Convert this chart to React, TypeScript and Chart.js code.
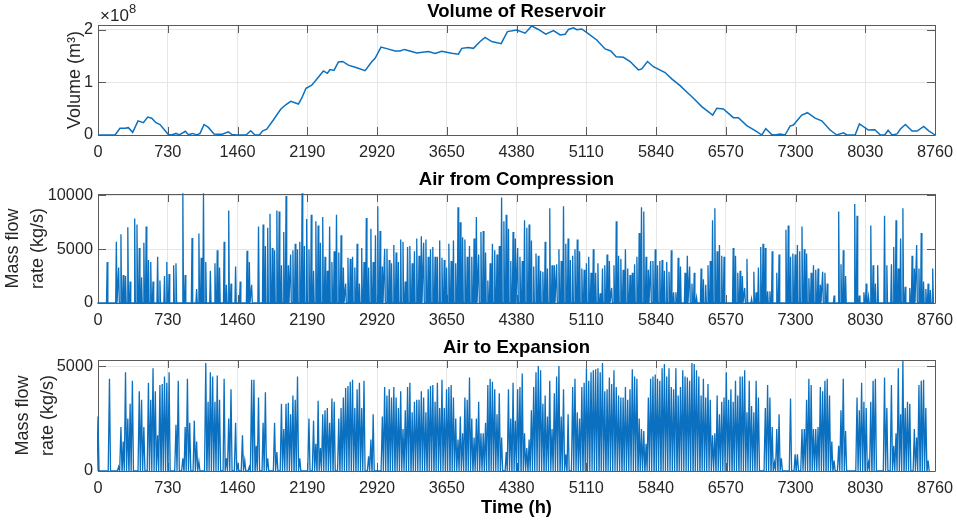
import React, { useEffect, useRef } from 'react';
import Chart from 'chart.js/auto';

const xTicks = [0, 730, 1460, 2190, 2920, 3650, 4380, 5110, 5840, 6570, 7300, 8030, 8760];

// reservoir volume, in units of 1e8 m3
const volumeHours = [
  0, 178, 230, 283, 318, 363, 419, 475, 520, 562, 607, 649, 736, 771, 816, 851, 914, 946, 991, 1033,
  1068, 1110, 1155, 1214, 1294, 1364, 1399, 1451, 1549, 1598, 1643, 1689, 1724, 1766, 1835, 1912, 1968, 2017, 2097, 2132,
  2177, 2237, 2306, 2359, 2401, 2428, 2470, 2516, 2561, 2620, 2708, 2795, 2865, 2900, 2962, 3022, 3109, 3161, 3207, 3283,
  3336, 3458, 3528, 3597, 3702, 3772, 3807, 3876, 3929, 3999, 4051, 4121, 4219, 4285, 4383, 4470, 4539, 4609, 4686, 4767,
  4837, 4889, 4924, 4976, 5011, 5063, 5116, 5220, 5307, 5367, 5423, 5499, 5569, 5656, 5691, 5751, 5813, 5935, 6005, 6092,
  6179, 6232, 6319, 6434, 6476, 6545, 6650, 6702, 6790, 6895, 6947, 6989, 7052, 7087, 7139, 7191, 7243, 7278, 7365, 7425,
  7505, 7575, 7662, 7732, 7802, 7837, 7924, 7969, 8063, 8130, 8189, 8234, 8269, 8311, 8363, 8398, 8450, 8520, 8573, 8642,
  8695, 8760,
];
const volumes = [
  0, 0, 0.127, 0.127, 0.14, 0.05, 0.27, 0.235, 0.34, 0.32, 0.235, 0.2, 0.01, 0, 0.03, 0, 0.07, 0.005, 0.03, 0,
  0.03, 0.2, 0.145, 0.02, 0.012, 0.06, 0.012, 0, 0, 0.08, 0, 0, 0.08, 0.11, 0.285, 0.49, 0.58, 0.64, 0.59, 0.7,
  0.89, 0.95, 1.1, 1.22, 1.175, 1.245, 1.23, 1.39, 1.4, 1.33, 1.28, 1.225, 1.395, 1.46, 1.675, 1.645, 1.6, 1.6, 1.63, 1.59,
  1.56, 1.59, 1.555, 1.595, 1.555, 1.54, 1.65, 1.665, 1.65, 1.78, 1.86, 1.78, 1.74, 1.97, 2.0, 1.94, 2.075, 2.01, 1.92, 1.99,
  1.905, 1.92, 2.01, 2.04, 2.005, 2.02, 1.95, 1.81, 1.64, 1.6, 1.49, 1.48, 1.4, 1.24, 1.26, 1.4, 1.3, 1.19, 1.07, 0.94,
  0.79, 0.7, 0.54, 0.38, 0.51, 0.495, 0.33, 0.33, 0.18, 0.065, 0, 0.12, 0.01, 0, 0.02, 0, 0.17, 0.19, 0.38, 0.425,
  0.32, 0.27, 0.095, 0, 0.04, 0, 0, 0.21, 0.095, 0.1, 0, 0, 0.09, 0, 0.02, 0.115, 0.2, 0.075, 0.075, 0.165,
  0.08, 0,
];

// daily peak of the compressor air flow, kg/s
const compressionPeaks = [
  0, 0, 0, 0, 3800, 0, 0, 0, 5700, 3300,
  6400, 2600, 2500, 7050, 2000, 0, 7850, 7300, 5100, 2400,
  5600, 7100, 4000, 3800, 2000, 0, 4300, 2100, 0, 2500,
  3800, 2700, 0, 3500, 3700, 0, 0, 10200, 2600, 0,
  0, 6050, 0, 1300, 6450, 4200, 10200, 3800, 0, 3000,
  0, 3700, 4900, 3300, 0, 5700, 1700, 8600, 1800, 0,
  3400, 0, 2000, 0, 0, 4850, 3800, 1700, 0, 0,
  7100, 0, 7300, 5300, 7000, 8300, 5100, 4900, 8600, 8500,
  3500, 6600, 9950, 3500, 4500, 4900, 5500, 5000, 5700, 10200,
  5300, 7800, 5000, 8200, 3000, 7600, 7200, 5600, 8000, 4300,
  3000, 7100, 3800, 4800, 8200, 4700, 6300, 3300, 1800, 4200,
  4100, 4300, 3300, 5500, 1800, 5100, 3800, 7900, 3300, 6900,
  3800, 6300, 9000, 6700, 3400, 5050, 5050, 4000, 3700, 5400,
  4700, 3800, 5900, 5700, 2000, 5200, 5300, 3700, 4800, 6000,
  4400, 6200, 5600, 5900, 4300, 5000, 5200, 4300, 4300, 5800,
  4200, 4000, 3300, 5500, 3900, 5800, 3700, 8900, 7500, 6100,
  5900, 4300, 5300, 4300, 6000, 8000, 4500, 6600, 6700, 4700,
  2100, 3700, 5500, 4900, 4500, 5300, 9800, 7600, 8200, 6900,
  3900, 6600, 6000, 5100, 4300, 3900, 7700, 7000, 7300, 5800,
  3400, 4600, 4400, 3000, 2900, 5700, 3200, 8800, 3500, 3500,
  3600, 5000, 3900, 9000, 5500, 6000, 4000, 4400, 5000, 5900,
  4800, 3200, 3100, 3700, 4300, 2800, 5000, 2800, 3700, 900,
  3200, 3500, 4500, 3900, 1400, 3500, 7600, 4400, 4100, 3100,
  5000, 3200, 2600, 2800, 3600, 4300, 6500, 8900, 8500, 4300,
  3100, 3900, 3900, 5000, 3500, 3900, 4000, 3000, 3800, 2900,
  4900, 1000, 1000, 4200, 3400, 0, 2800, 4400, 3400, 1800,
  2800, 500, 0, 3200, 2200, 1700, 3500, 3900, 7700, 8800,
  4800, 5400, 4400, 4300, 0, 0, 0, 5100, 4400, 2800,
  3000, 2500, 1400, 4100, 0, 400, 2900, 1000, 3300, 5200,
  5500, 5100, 1100, 1100, 4800, 0, 2800, 4500, 0, 0,
  6800, 7200, 4300, 4600, 4500, 5400, 4800, 7100, 5000, 4600,
  2300, 2800, 3500, 3100, 3200, 1700, 2900, 2800, 1800, 0,
  0, 700, 0, 8500, 3600, 4900, 2500, 0, 0, 0,
  9200, 8100, 700, 0, 1000, 1800, 600, 7200, 3500, 1800,
  3500, 0, 0, 8100, 3500, 0, 3600, 5200, 7700, 3200,
  6000, 8800, 1500, 0, 1400, 4400, 3200, 5400, 3200, 6500,
  2000, 1300, 1800, 1200, 3200,
];

// daily peak of the expansion air flow, kg/s
const expansionPeaks = [
  2600, 0, 0, 0, 0, 4400, 0, 0, 0, 200,
  2100, 1400, 4700, 2500, 3200, 4300, 0, 0, 3800, 3400,
  2100, 0, 4200, 3400, 4900, 3800, 1700, 4100, 4150, 4500,
  4200, 4700, 0, 0, 2200, 4300, 0, 600, 2100, 4400,
  2300, 0, 2400, 1400, 450, 0, 0, 5150, 3300, 4700,
  4500, 3300, 4550, 3400, 0, 4400, 600, 2500, 3900, 0,
  2300, 300, 0, 1700, 500, 0, 200, 4350, 4350, 1200,
  3500, 0, 2300, 3750, 600, 0, 0, 2300, 900, 0,
  3200, 2000, 3200, 3250, 2700, 3600, 3400, 4500, 600, 0,
  0, 0, 2500, 0, 2400, 1300, 3350, 1100, 2700, 2900,
  3000, 2300, 3450, 3300, 0, 2500, 3000, 3500, 3950, 4050,
  4250, 4350, 3000, 3900, 4200, 3000, 4300, 0, 700, 1500,
  2700, 0, 0, 0, 2600, 4000, 3600, 3900, 3500, 4000,
  3500, 3000, 3800, 2000, 2900, 4000, 4200, 2800, 3300, 3400,
  3400, 3800, 3500, 2800, 3900, 4050, 4100, 3300, 4200, 3000,
  4350, 3000, 3900, 4000, 4100, 3500, 2500, 1500, 2600, 1800,
  3500, 3400, 4450, 2500, 1600, 2500, 3300, 1800, 1800, 2300,
  4100, 4400, 4250, 3900, 2700, 3700, 1600, 0, 900, 3900,
  2500, 4200, 2400, 3900, 4000, 4650, 1800, 1100, 1500, 2900,
  4000, 4700, 5000, 4800, 3200, 3600, 2600, 4300, 2000, 3700,
  4500, 5000, 2600, 3900, 800, 2700, 0, 4000, 4400, 2800,
  2500, 4000, 4200, 4900, 4300, 4700, 4800, 4850, 4900, 4700,
  5150, 3800, 3900, 4450, 4150, 4800, 4000, 3600, 3500, 3500,
  4000, 3400, 3900, 4850, 4500, 4400, 2500, 2000, 1900, 1300,
  3500, 4400, 4500, 4600, 4400, 4300, 4900, 5100, 4500, 4900,
  4000, 3900, 4900, 3600, 4000, 4800, 4500, 4450, 4300, 5150,
  5100, 4800, 4500, 3600, 4400, 3500, 4150, 3400, 1700, 1800,
  3600, 2700, 3300, 3500, 4700, 3400, 3900, 3300, 4300, 3600,
  4500, 4500, 4800, 2800, 4300, 3100, 2800, 4300, 3500, 0,
  0, 3000, 4100, 3500, 2100, 400, 2000, 2700, 600, 0,
  0, 0, 3450, 0, 800, 800, 0, 2000, 2000, 3400,
  4400, 4100, 2000, 2000, 2100, 4000, 3800, 4300, 4400, 3600,
  1400, 500, 0, 1200, 2900, 4400, 1900, 0, 0, 0,
  0, 3500, 2900, 4200, 3300, 3000, 400, 3300, 4300, 4400,
  0, 0, 0, 4450, 3000, 0, 4100, 1200, 1800, 4900,
  2700, 5250, 3000, 3300, 3200, 0, 2000, 1600, 4100, 4300,
  4350, 3000, 500,
];

const LINE_BLUE = '#0a70bf';
const AXIS_GREY = '#5a5a5a';
const TEXT_GREY = '#262626';
const FONT = "'Liberation Sans', Arial, sans-serif";

// halfWidth: hours either side of a daily peak
const spikes = (peaks: number[], halfWidth: number) =>
  peaks.flatMap((peak, day) => [
    { x: day * 24 - halfWidth, y: 0 },
    { x: day * 24, y: peak },
    { x: day * 24 + halfWidth, y: 0 },
  ]);

type PanelProps = {
  title: string;
  titleTop: number;
  yLabel: string | string[];
  yMax: number;
  yTicks: number[];
  points: { x: number; y: number }[];
  lineWidth: number;
  canvasTop: number;
  canvasHeight: number;
  plotTop: number;
  xBoxHeight: number;
  yBoxWidth: number;
  xLabel?: string;
  exponent?: boolean;
};

const PLOT_LEFT = 98;

const Panel = (props: PanelProps) => {
  const chartRef = useRef<HTMLCanvasElement>(null);

  useEffect(() => {
    if (!chartRef.current) return;
    const { title, titleTop, yLabel, yMax, yTicks, points, lineWidth, plotTop, xBoxHeight, yBoxWidth, xLabel, exponent } = props;

    // MATLAB style box with inward ticks on all four sides, under the data
    const frame = {
      id: 'frame',
      beforeDatasetsDraw(chart: any) {
        const { ctx, chartArea: a, scales } = chart;
        ctx.save();
        ctx.strokeStyle = AXIS_GREY;
        ctx.lineWidth = 1;
        ctx.beginPath();
        xTicks.forEach((t) => {
          const px = Math.round(scales.x.getPixelForValue(t)) + 0.5;
          ctx.moveTo(px, a.top);
          ctx.lineTo(px, a.top + 8);
          ctx.moveTo(px, a.bottom);
          ctx.lineTo(px, a.bottom - 8);
        });
        yTicks.forEach((t) => {
          const py = Math.round(scales.y.getPixelForValue(t)) + 0.5;
          ctx.moveTo(a.left, py);
          ctx.lineTo(a.left + 8, py);
          ctx.moveTo(a.right, py);
          ctx.lineTo(a.right - 8, py);
        });
        ctx.rect(a.left + 0.5, a.top + 0.5, a.right - a.left, a.bottom - a.top);
        ctx.stroke();
        ctx.restore();
      },
      afterDraw(chart: any) {
        if (!exponent) return;
        const { ctx, chartArea: a } = chart;
        ctx.save();
        ctx.fillStyle = TEXT_GREY;
        ctx.textBaseline = 'alphabetic';
        ctx.font = `17px ${FONT}`;
        ctx.fillText('×10', a.left + 2, 21);
        ctx.font = `13px ${FONT}`;
        ctx.fillText('8', a.left + 31, 13);
        ctx.restore();
      },
    };

    const chart = new Chart(chartRef.current, {
      type: 'line',
      data: {
        datasets: [{
          data: points,
          borderColor: LINE_BLUE,
          borderWidth: lineWidth,
          pointRadius: 0,
          tension: 0,
          clip: 1,
        }],
      },
      plugins: [frame],
      options: {
        responsive: false,
        animation: false,
        layout: { padding: { left: PLOT_LEFT - yBoxWidth, right: 22, top: 0, bottom: 0 } },
        plugins: {
          legend: { display: false },
          tooltip: { enabled: false },
          title: {
            display: true,
            text: title,
            color: '#000',
            fullSize: false,
            font: { family: FONT, size: 18.5, weight: 'bold', lineHeight: 1.1 },
            padding: { top: titleTop, bottom: plotTop - titleTop - 20.35 },
          },
        },
        scales: {
          x: {
            type: 'linear',
            min: 0,
            max: 8760,
            afterFit: (scale: any) => {
              scale.height = xBoxHeight;
              scale.paddingLeft = 0;
              scale.paddingRight = 0;
            },
            afterBuildTicks: (scale: any) => { scale.ticks = xTicks.map((value) => ({ value })); },
            grid: { color: '#e6e6e6', drawTicks: false },
            border: { display: false },
            ticks: {
              color: TEXT_GREY,
              font: { family: FONT, size: 16.3 },
              padding: 8,
              maxRotation: 0,
              autoSkip: false,
              callback: (value: any) => String(value),
            },
            title: {
              display: !!xLabel,
              text: xLabel,
              color: '#000',
              font: { family: FONT, size: 18.3, weight: 'bold' },
              padding: { top: 0, bottom: 4 },
            },
          },
          y: {
            min: 0,
            max: yMax,
            afterFit: (scale: any) => { scale.width = yBoxWidth; },
            afterBuildTicks: (scale: any) => { scale.ticks = yTicks.map((value) => ({ value })); },
            grid: { color: '#e6e6e6', drawTicks: false },
            border: { display: false },
            ticks: {
              color: TEXT_GREY,
              font: { family: FONT, size: 16.3 },
              padding: 5,
              callback: (value: any) => String(value),
            },
            title: {
              display: true,
              text: yLabel,
              color: TEXT_GREY,
              font: { family: FONT, size: 18, lineHeight: 1.4 },
              padding: 0,
            },
          },
        },
      },
    } as any);

    return () => chart.destroy();
  }, []);

  return (
    <canvas
      ref={chartRef}
      width={957}
      height={props.canvasHeight}
      style={{ position: 'absolute', left: 0, top: props.canvasTop, display: 'block' }}
    />
  );
};

const App = () => (
  <div style={{ position: 'fixed', left: 0, top: 0, width: 957, height: 523, background: '#fff', overflow: 'hidden' }}>
    <Panel
      title="Volume of Reservoir"
      titleTop={2}
      yLabel="Volume (m³)"
      yMax={2.095}
      yTicks={[0, 1, 2]}
      points={volumeHours.map((x, i) => ({ x, y: volumes[i] }))}
      lineWidth={1.5}
      canvasTop={0}
      canvasHeight={165}
      plotTop={25}
      xBoxHeight={30}
      yBoxWidth={36}
      exponent
    />
    <Panel
      title="Air from Compression"
      titleTop={0}
      yLabel={['Mass flow', 'rate (kg/s)']}
      yMax={10130}
      yTicks={[0, 5000, 10000]}
      points={spikes(compressionPeaks, 7)}
      lineWidth={1.3}
      canvasTop={170}
      canvasHeight={165}
      plotTop={24}
      xBoxHeight={32}
      yBoxWidth={98}
    />
    <Panel
      title="Air to Expansion"
      titleTop={8}
      yLabel={['Mass flow', 'rate (kg/s)']}
      yMax={5290}
      yTicks={[0, 5000]}
      points={spikes(expansionPeaks, 11)}
      lineWidth={1.3}
      canvasTop={330}
      canvasHeight={193}
      plotTop={30}
      xBoxHeight={52}
      yBoxWidth={88}
      xLabel="Time (h)"
    />
  </div>
);

export default App;
